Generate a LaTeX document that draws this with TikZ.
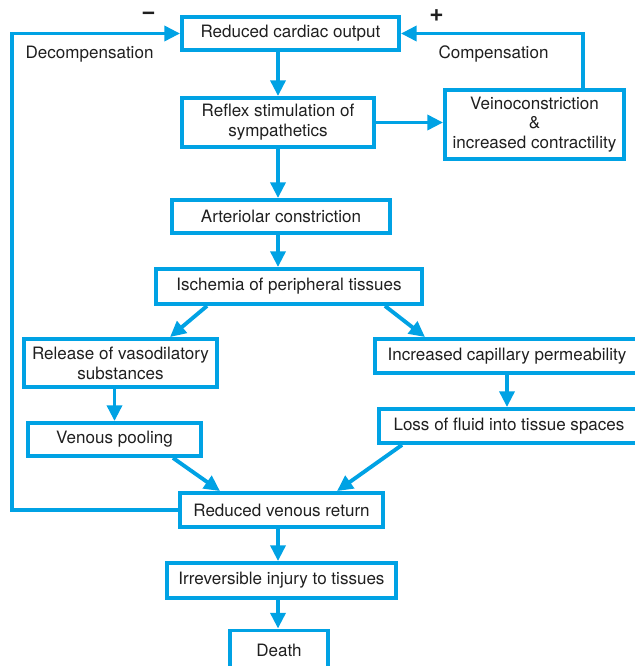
\documentclass[tikz,border=0pt]{standalone}
\usepackage{fontspec}
\setmainfont{TeX Gyre Heros}
\usetikzlibrary{arrows.meta}
\definecolor{flowblue}{RGB}{0,162,228}

\begin{document}
\begin{tikzpicture}[x=.02cm,y=-.02cm,>={Triangle[length=9pt,width=8.5pt]},
  font=\fontsize{9.7}{11.3}\selectfont,text=black!88,
  box/.style={draw=flowblue,line width=2.2pt,inner sep=0pt,align=center},
  flow/.style={draw=flowblue,line width=2.2pt,->,flowblue},
  sign/.style={font=\fontsize{14}{14}\selectfont\bfseries}]
\useasboundingbox (0,0) rectangle (635,666);
\clip (0,0) rectangle (635,666);
\coordinate (spine) at (278,0);
\coordinate (loop) at (12,0);

% main column
\node[box,minimum width=4.34cm,minimum height=.66cm] (output) at (290.5,33.5) {Reduced cardiac output};
\node[box,minimum width=3.84cm,minimum height=.98cm] (reflex) at (278,122.5) {Reflex stimulation of\\sympathetics};
\node[box,minimum width=3.58cm,minimum height=1.38cm] (veino) at (534.5,124.5) {Veinoconstriction\\\&\\increased contractility};
\node[box,minimum width=4.36cm,minimum height=.66cm] (arterio) at (281,216.5) {Arteriolar constriction};
\node[box,minimum width=5.32cm,minimum height=.7cm] (ischemia) at (289,286.5) {Ischemia of peripheral tissues};

% two branches
\node[box,minimum width=3.86cm,minimum height=.96cm] (release) at (120.5,363) {Release of vasodilatory\\substances};
\node[box,minimum width=3.46cm,minimum height=.66cm] (pooling) at (114.5,439.5) {Venous pooling};
\node[box,minimum width=5.27cm,minimum height=.68cm] (permeab) at (507,356) {Increased capillary permeability};
\node[box,minimum width=5.19cm,minimum height=.68cm] (fluidloss) at (509,426) {Loss of fluid into tissue spaces};

% bottom
\node[box,minimum width=4.06cm,minimum height=.68cm] (venret) at (281.5,510) {Reduced venous return};
\node[box,minimum width=4.58cm,minimum height=.7cm] (injury) at (281.5,580.5) {Irreversible injury to tissues};
\node[box,minimum width=1.96cm,minimum height=.8cm] (death) at (279,650.5) {Death};

% loop labels
\node (decomp) at (89.5,54) {Decompensation};
\node (comp) at (493.5,54) {Compensation};
\node[sign] (minus) at (148.5,16) {−};
\node[sign] (plus) at (436.5,16) {+};

\draw[flow] (output.south -| spine) -- (reflex.north -| spine);
\draw[flow] (reflex.south -| spine) -- (arterio.north -| spine);
\draw[flow] (arterio.south -| spine) -- (ischemia.north -| spine);
\draw[flow] (reflex.east) -- (reflex.east -| veino.west);
\draw[flow] ([xshift=.97cm]veino.north) |- (output.east);
\draw[flow] ([xshift=-1.64cm]ischemia.south) -- ([xshift=.99cm]release.north);
\draw[flow] ([xshift=1.92cm]ischemia.south) -- ([xshift=-1.64cm]permeab.north);
\draw[flow] (release.south -| pooling) -- (pooling.north);
\draw[flow] (permeab.south) -- (permeab.south |- fluidloss.north);
\draw[flow] ([xshift=1.17cm]pooling.south) -- ([xshift=-1.23cm]venret.north);
\draw[flow] ([xshift=-2.14cm]fluidloss.south) -- ([xshift=1.11cm]venret.north);
\draw[flow] (venret.south -| spine) -- (injury.north -| spine);
\draw[flow] (injury.south -| spine) -- (death.north -| spine);
\draw[flow] (venret.west) -| (loop |- output.west) -- (output.west);
\end{tikzpicture}
\end{document}
